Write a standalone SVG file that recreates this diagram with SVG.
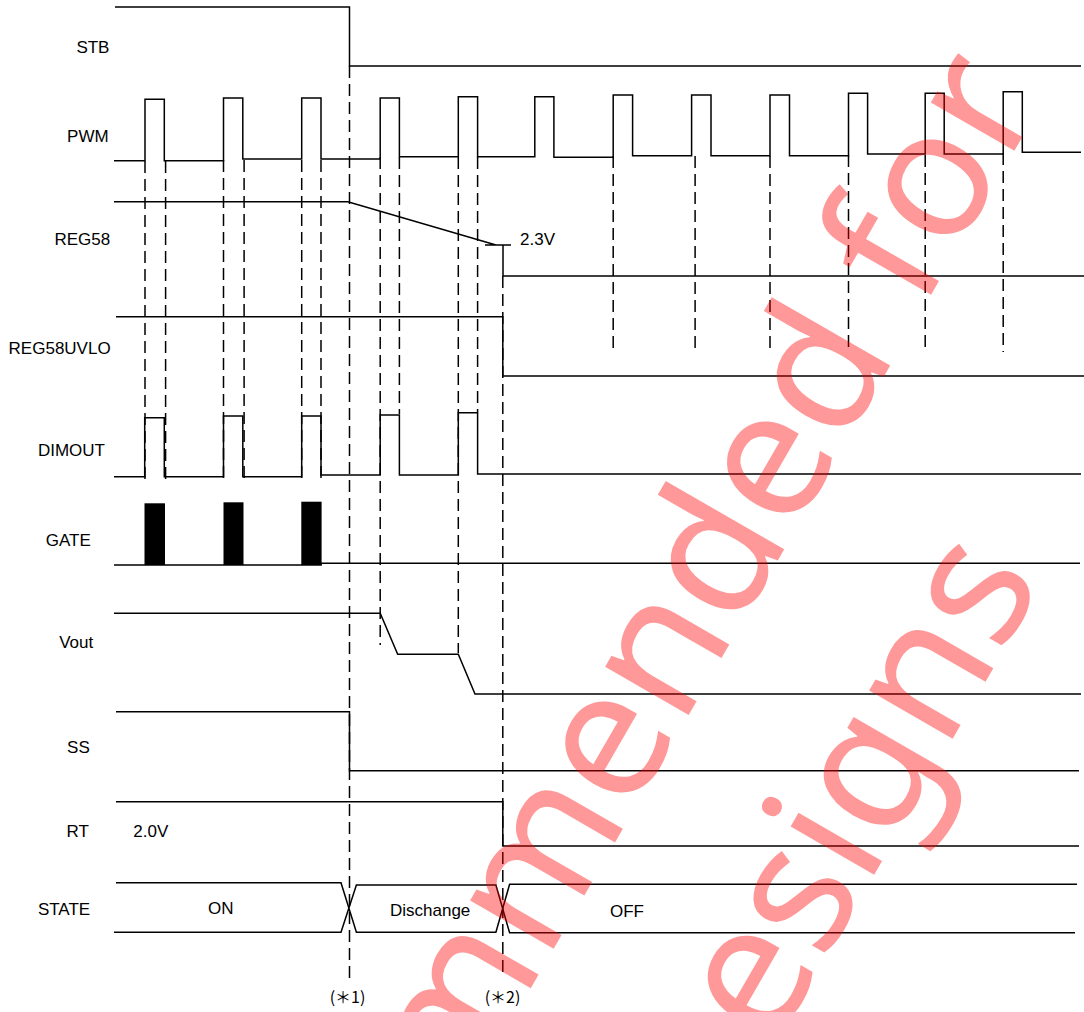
<svg xmlns="http://www.w3.org/2000/svg" width="1084" height="1012" viewBox="0 0 1084 1012">
<style>
.w{fill:none;stroke:#000;stroke-width:1.5}
.d{fill:none;stroke:#000;stroke-width:1.5;stroke-dasharray:12 6}
.lbl{font-family:"Liberation Sans",Arial,sans-serif;font-size:17px;fill:#000}
.note{font-family:"Noto Sans CJK JP","Liberation Sans",sans-serif;font-size:16px;fill:#000;text-anchor:middle}
.wm{font-family:"Noto Sans",sans-serif;font-size:180px;fill:#f00;fill-opacity:0.4}
</style>
<rect width="1084" height="1012" fill="#fff"/>

<g id="connectors">
<path class="d" d="M145,161V482M165.6,161V482M223.5,160V482M244.1,160V482M301.7,160V482M321,160V482"/>
<path class="d" d="M380.2,157V645M399.4,157V414M458.3,157V653M477.6,157V412"/>
<path class="d" d="M349.5,66V980M502.8,276V977"/>
<path class="d" d="M613.2,156V352M695.1,156V352M770,156V352M848.5,155V352M925.2,155V352M1003.2,153V352"/>
</g>

<g id="sig-STB">
<text class="lbl" x="76.4" y="53.3">STB</text>
<path class="w" d="M115,7H349.5V66H1081"/>
</g>

<g id="sig-PWM">
<text class="lbl" x="67.1" y="141.7">PWM</text>
<path class="w" d="M114,160.7H145V99.3H164.3V160.7H223.5V98H242.8V159H301.7V98H321V159H380.2V98H399.4V156.7H458.3V96.7H477.6V156.7H534.8V96.7H553.9V157.3H613.2V95H632.6V155.7H691.6V95H711V155.7H770V95H789.5V155.7H848.5V93.3H867.6V154H925.2V93.3H944.2V154H1003.2V91.7H1022.3V152.3H1081"/>
</g>

<g id="sig-REG58">
<text class="lbl" x="54.4" y="245">REG58</text>
<text class="lbl" x="520" y="245">2.3V</text>
<path class="w" d="M114,201.7H347.8L496,245M485,245H511M503,245V276H1084"/>
</g>

<g id="sig-REG58UVLO">
<text class="lbl" x="8.6" y="354">REG58UVLO</text>
<path class="w" d="M116,316.7H502.8V376H1084"/>
</g>

<g id="sig-DIMOUT">
<text class="lbl" x="37.9" y="456">DIMOUT</text>
<path class="w" d="M114,476.7H144.7V417.7H164.3V476.7H223.5V416H242.8V476.7H301.7V416H321V475H380.2V415H399.4V475H458.3V412.7H477.6V474H1081"/>
</g>

<g id="sig-GATE">
<text class="lbl" x="45.8" y="546">GATE</text>
<path class="w" d="M114,565H321V563.3H1080"/>
<rect x="144.5" y="503.3" width="20.5" height="61.7" fill="#000"/>
<rect x="223.5" y="502.3" width="20" height="62.7" fill="#000"/>
<rect x="301.3" y="501.7" width="20.3" height="63.3" fill="#000"/>
</g>

<g id="sig-Vout">
<text class="lbl" x="59.2" y="648.3">Vout</text>
<path class="w" d="M114,613.3H380.2L397.7,654.3H458.3L475,694H1081"/>
</g>

<g id="sig-SS">
<text class="lbl" x="67.1" y="752.7">SS</text>
<path class="w" d="M116,711.7H349.5V770.7H1079"/>
</g>

<g id="sig-RT">
<text class="lbl" x="66.5" y="836.7">RT</text>
<text class="lbl" x="133.3" y="836.7">2.0V</text>
<path class="w" d="M116,801.7H502.8V846H1079"/>
</g>

<g id="sig-STATE">
<text class="lbl" x="37.9" y="915">STATE</text>
<text class="lbl" x="208" y="914">ON</text>
<text class="lbl" x="390" y="915.7">Dischange</text>
<text class="lbl" x="610" y="916.7">OFF</text>
<path class="w" d="M116,882.7H341L356.4,932.3H495.9L509.6,884.3H1077M114,932.3H341L356.4,885H495.9L509.6,932.7H1075"/>
</g>

<g id="notes">
<text class="note" x="347.5" y="1003">(＊1)</text>
<text class="note" x="502.5" y="1003">(＊2)</text>
</g>

<g id="watermark">
<text class="wm" transform="translate(736.5,632) rotate(-60)"><tspan x="0" text-anchor="end">Not Recommen</tspan><tspan x="0" text-anchor="start">ded for</tspan></text>
<text class="wm" transform="translate(866.4,888) rotate(-60)"><tspan x="0" text-anchor="end">New Des</tspan><tspan x="0" text-anchor="start">igns</tspan></text>
</g>
</svg>
